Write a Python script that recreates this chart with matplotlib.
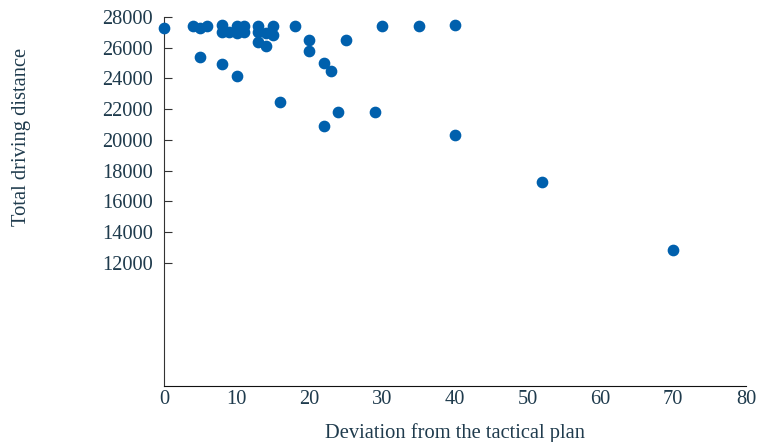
import matplotlib.pyplot as plt

# deviation from plan vs total driving distance
deviation = [0, 4, 5, 6, 5, 8, 8, 9, 10, 10, 11, 11, 8, 10,
             13, 13, 14, 15, 15, 13, 14, 16, 18, 20, 20, 22, 23, 24,
             25, 30, 35, 40, 29, 22, 40, 52, 70]
distance = [27300, 27370, 27300, 27370, 25380, 27480, 27040, 27000, 27370, 26940, 27400, 27000, 24940, 24120,
            27400, 26980, 26940, 27400, 26830, 26330, 26110, 22490, 27370, 26460, 25790, 24990, 24490, 21840,
            26460, 27370, 27400, 27480, 21820, 20890, 20300, 17250, 12850]

y_ticks = [12000, 14000, 16000, 18000, 20000, 22000, 24000, 26000, 28000]
x_ticks = [0, 10, 20, 30, 40, 50, 60, 70, 80]

txt = '#1f3b4d'
plt.rcParams['font.family'] = ['Liberation Serif', 'DejaVu Serif']

fig = plt.figure(figsize=(7.62, 4.42), dpi=100)
ax = fig.add_axes([0.215, 0.127, 0.764, 0.835])

ax.scatter(deviation, distance, s=55, color='#0060ad', zorder=3, clip_on=False)

ax.set_xlim(0, 80)
ax.set_ylim(4000, 28000)
ax.set_xticks(x_ticks)
ax.set_yticks(y_ticks)

ax.spines['top'].set_visible(False)
ax.spines['right'].set_visible(False)
ax.spines['left'].set_color('#333333')
ax.spines['bottom'].set_color('#111111')

ax.tick_params(axis='y', direction='in', length=6, color='#333333', labelsize=14.7, labelcolor=txt, pad=8)
ax.tick_params(axis='x', length=0, labelsize=14.7, labelcolor=txt, pad=3)

ax.set_xlabel('Deviation from the tactical plan', fontsize=14.8, color=txt, labelpad=10)
ax.set_ylabel('Total driving distance', fontsize=14.8, color=txt)
ax.yaxis.set_label_coords(-0.228, 0.675)

fig.savefig('out.png', dpi=100)
